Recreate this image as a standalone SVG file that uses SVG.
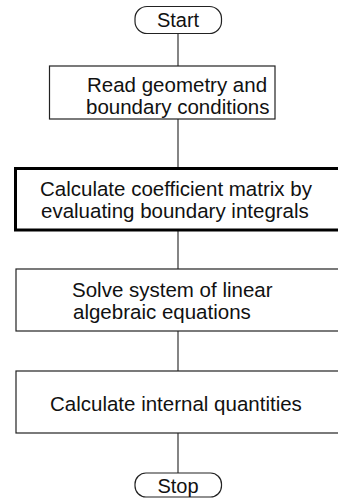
<svg xmlns="http://www.w3.org/2000/svg" width="338" height="503" viewBox="0 0 338 503">
<style>
.box{fill:#fff;stroke:#222;stroke-width:1.2}
.thick{fill:#fff;stroke:#000;stroke-width:3}
.conn{stroke:#333;stroke-width:1.2;fill:none}
text{font-family:"Liberation Sans",Arial,sans-serif;font-size:20.5px;fill:#111}
.t{font-size:20px}
</style>
<rect width="338" height="503" fill="#fff"/>
<g id="connectors">
<line class="conn" x1="178" y1="34" x2="178" y2="66"/>
<line class="conn" x1="178" y1="119" x2="178" y2="168"/>
<line class="conn" x1="178" y1="230" x2="178" y2="269"/>
<line class="conn" x1="178" y1="331" x2="178" y2="371"/>
<line class="conn" x1="178" y1="433" x2="178" y2="473"/>
</g>
<g id="start">
<rect class="box" x="135" y="6.5" width="86.5" height="27" rx="12" ry="12"/>
<text class="t" x="178" y="27" text-anchor="middle">Start</text>
</g>
<g id="read">
<rect class="box" x="49.5" y="66" width="225.5" height="53"/>
<text x="87" y="92">Read geometry and</text>
<text x="86" y="114">boundary conditions</text>
</g>
<g id="calc-matrix">
<rect class="thick" x="15.5" y="168.5" width="340" height="61.5"/>
<text x="40" y="196">Calculate coefficient matrix by</text>
<text x="41" y="218">evaluating boundary integrals</text>
</g>
<g id="solve">
<rect class="box" x="16" y="269" width="340" height="62"/>
<text x="72" y="297">Solve system of linear</text>
<text x="73" y="319">algebraic equations</text>
</g>
<g id="internal">
<rect class="box" x="16" y="371" width="340" height="62"/>
<text x="50" y="411">Calculate internal quantities</text>
</g>
<g id="stop">
<rect class="box" x="135" y="473" width="86.5" height="24" rx="11" ry="11"/>
<text class="t" x="178" y="493" text-anchor="middle">Stop</text>
</g>
</svg>
